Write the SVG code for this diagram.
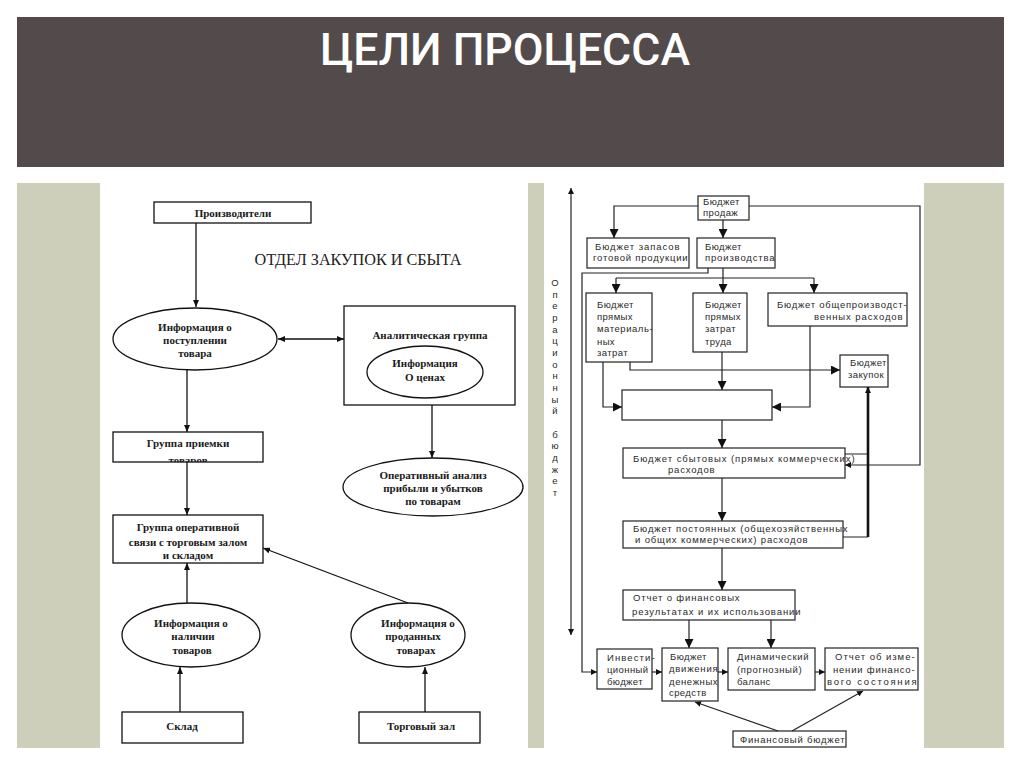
<svg xmlns="http://www.w3.org/2000/svg" width="1024" height="768" viewBox="0 0 1024 768">
<style>
.lt{font-family:"Liberation Serif","Times New Roman",serif;font-weight:bold;font-size:11px;fill:#1a1a1a;text-anchor:middle}
.rt{font-family:"Liberation Sans",Arial,sans-serif;font-size:9.5px;fill:#2a2a2a;letter-spacing:0.4px}
.lb{fill:#fff;stroke:#111;stroke-width:1.3}
.rb{fill:#fff;stroke:#222;stroke-width:1.2}
.ln{fill:none;stroke:#111;stroke-width:1.3}
.rl{fill:none;stroke:#222;stroke-width:1.2}
</style>
<defs>
<marker id="aL" markerUnits="userSpaceOnUse" markerWidth="8" markerHeight="6" refX="7" refY="3" orient="auto-start-reverse"><path d="M0,0 L7,3 L0,6 z" fill="#111"/></marker>
<marker id="aR" markerUnits="userSpaceOnUse" markerWidth="10" markerHeight="9" refX="9" refY="4.5" orient="auto-start-reverse"><path d="M0,0 L9,4.5 L0,9 z" fill="#111"/></marker>
<marker id="aS" markerUnits="userSpaceOnUse" markerWidth="7" markerHeight="6" refX="6" refY="3" orient="auto-start-reverse"><path d="M0,0 L6,3 L0,6 z" fill="#111"/></marker>
<clipPath id="cp1"><rect x="113" y="432" width="150" height="30"/></clipPath>
</defs>
<rect width="1024" height="768" fill="#fff"/>
<rect x="17" y="17" width="987" height="150" fill="#534b4b"/>
<text x="505" y="65" font-family="Roboto,'Liberation Sans',Arial,sans-serif" font-weight="500" font-size="45" fill="#fff" text-anchor="middle" textLength="370" lengthAdjust="spacingAndGlyphs">ЦЕЛИ ПРОЦЕССА</text>
<rect x="17" y="183" width="83" height="565" fill="#cdcfba"/>
<rect x="528" y="183" width="16" height="565" fill="#cdcfba"/>
<rect x="924" y="183" width="80" height="565" fill="#cdcfba"/>

<!-- LEFT DIAGRAM -->
<text x="358" y="265" font-family="'Liberation Serif','Times New Roman',serif" font-size="16" fill="#222" text-anchor="middle" textLength="207" lengthAdjust="spacingAndGlyphs">ОТДЕЛ ЗАКУПОК И СБЫТА</text>
<g id="proizv"><rect class="lb" x="154" y="202" width="157" height="21"/><text class="lt" x="233" y="217">Производители</text></g>
<g id="info-post"><ellipse class="lb" cx="195" cy="339" rx="82" ry="31"/><text class="lt" x="195" y="331">Информация о</text><text class="lt" x="195" y="344">поступлении</text><text class="lt" x="195" y="357">товара</text></g>
<g id="analit"><rect class="lb" x="344" y="306" width="171" height="99"/><text class="lt" x="430" y="339">Аналитическая группа</text>
<ellipse class="lb" cx="425" cy="372" rx="58" ry="26"/><text class="lt" x="425" y="367">Информация</text><text class="lt" x="425" y="381">О ценах</text></g>
<g id="oper-analiz"><ellipse class="lb" cx="433" cy="487" rx="90" ry="29"/><text class="lt" x="433" y="479">Оперативный анализ</text><text class="lt" x="433" y="492">прибыли и убытков</text><text class="lt" x="433" y="505">по товарам</text></g>
<g id="gr-priem"><rect class="lb" x="113" y="432" width="150" height="30"/><text class="lt" x="188" y="447">Группа приемки</text><text class="lt" x="188" y="464" clip-path="url(#cp1)">товаров</text></g>
<g id="gr-oper"><rect class="lb" x="113" y="515" width="150" height="48"/><text class="lt" x="188" y="531">Группа оперативной</text><text class="lt" x="188" y="546">связи с торговым залом</text><text class="lt" x="188" y="559">и складом</text></g>
<g id="info-nal"><ellipse class="lb" cx="191" cy="635" rx="69" ry="32"/><text class="lt" x="191" y="627">Информация о</text><text class="lt" x="193" y="640">наличии</text><text class="lt" x="192" y="654">товаров</text></g>
<g id="info-prod"><ellipse class="lb" cx="408" cy="635" rx="57" ry="32"/><text class="lt" x="418" y="627">Информация о</text><text class="lt" x="413" y="640">проданных</text><text class="lt" x="416" y="654">товарах</text></g>
<g id="sklad"><rect class="lb" x="122" y="712" width="121" height="31"/><text class="lt" x="182" y="730">Склад</text></g>
<g id="torg"><rect class="lb" x="359" y="712" width="121" height="31"/><text class="lt" x="421" y="730">Торговый зал</text></g>

<!-- RIGHT DIAGRAM -->
<text class="rt" style="letter-spacing:0" text-anchor="middle"><tspan x="555" y="286">О</tspan><tspan x="555" y="298">п</tspan><tspan x="555" y="309">е</tspan><tspan x="555" y="321">р</tspan><tspan x="555" y="333">а</tspan><tspan x="555" y="344">ц</tspan><tspan x="555" y="356">и</tspan><tspan x="555" y="368">о</tspan><tspan x="555" y="379">н</tspan><tspan x="555" y="391">н</tspan><tspan x="555" y="403">ы</tspan><tspan x="555" y="414">й</tspan><tspan x="555" y="438">б</tspan><tspan x="555" y="449">ю</tspan><tspan x="555" y="461">д</tspan><tspan x="555" y="473">ж</tspan><tspan x="555" y="484">е</tspan><tspan x="555" y="496">т</tspan></text>

<g id="b-prodazh"><rect class="rb" x="698" y="196" width="51" height="24"/><text class="rt" x="703" y="205">Бюджет</text><text class="rt" x="703" y="216">продаж</text></g>
<g id="b-zapasov"><rect class="rb" x="587" y="238" width="102" height="30" stroke-width="2"/><text class="rt" x="595" y="250" textLength="85" lengthAdjust="spacing">Бюджет  запасов</text><text class="rt" x="593" y="261" textLength="95" lengthAdjust="spacing">готовой продукции</text></g>
<g id="b-proizv"><rect class="rb" x="697" y="238" width="78" height="30"/><text class="rt" x="705" y="250">Бюджет</text><text class="rt" x="705" y="261" textLength="70" lengthAdjust="spacing">производства</text></g>
<g id="b-mat"><rect class="rb" x="586" y="293" width="66" height="69"/><text class="rt" x="597" y="308">Бюджет</text><text class="rt" x="597" y="320">прямых</text><text class="rt" x="597" y="332" textLength="56" lengthAdjust="spacing">материаль-</text><text class="rt" x="597" y="345">ных</text><text class="rt" x="597" y="356">затрат</text></g>
<g id="b-trud"><rect class="rb" x="693" y="293" width="54" height="59"/><text class="rt" x="705" y="308">Бюджет</text><text class="rt" x="705" y="320">прямых</text><text class="rt" x="705" y="332">затрат</text><text class="rt" x="705" y="345">труда</text></g>
<g id="b-obshch"><rect class="rb" x="768" y="293" width="139" height="33"/><text class="rt" x="777" y="308" textLength="130" lengthAdjust="spacing">Бюджет  общепроизводст-</text><text class="rt" x="814" y="320" textLength="89" lengthAdjust="spacing">венных  расходов</text></g>
<g id="b-zakup"><rect class="rb" x="840" y="355" width="48" height="32"/><text class="rt" x="850" y="366">Бюджет</text><text class="rt" x="848" y="378">закупок</text></g>
<g id="b-mid"><rect class="rb" x="622" y="390" width="150" height="30"/></g>
<g id="b-sbyt"><rect class="rb" x="623" y="448" width="222" height="30"/><text class="rt" x="633" y="462" textLength="222" lengthAdjust="spacing">Бюджет сбытовых (прямых коммерческих)</text><text class="rt" x="668" y="473" textLength="47" lengthAdjust="spacing">расходов</text></g>
<g id="b-post"><rect class="rb" x="623" y="521" width="220" height="27"/><text class="rt" x="633" y="532" textLength="215" lengthAdjust="spacing">Бюджет постоянных (общехозяйственных</text><text class="rt" x="635" y="543" textLength="173" lengthAdjust="spacing">и общих коммерческих) расходов</text></g>
<g id="b-otchet"><rect class="rb" x="623" y="590" width="172" height="30"/><text class="rt" x="633" y="601" textLength="107" lengthAdjust="spacing">Отчет  о финансовых</text><text class="rt" x="632" y="615" textLength="169" lengthAdjust="spacing">результатах и их использовании</text></g>
<g id="b-invest"><rect class="rb" x="597" y="649" width="55" height="40"/><text class="rt" x="607" y="661" textLength="48" lengthAdjust="spacing">Инвести-</text><text class="rt" x="607" y="673">ционный</text><text class="rt" x="607" y="685">бюджет</text></g>
<g id="b-dvizh"><rect class="rb" x="662" y="648" width="56" height="53"/><text class="rt" x="670" y="660">Бюджет</text><text class="rt" x="669" y="672" textLength="49" lengthAdjust="spacing">движения</text><text class="rt" x="669" y="685" textLength="49" lengthAdjust="spacing">денежных</text><text class="rt" x="669" y="696">средств</text></g>
<g id="b-dinam"><rect class="rb" x="728" y="648" width="87" height="42"/><text class="rt" x="737" y="660" textLength="72" lengthAdjust="spacing">Динамический</text><text class="rt" x="737" y="673" textLength="65" lengthAdjust="spacing">(прогнозный)</text><text class="rt" x="737" y="685">баланс</text></g>
<g id="b-izm"><rect class="rb" x="825" y="648" width="93" height="42"/><text class="rt" x="835" y="660" textLength="80" lengthAdjust="spacing">Отчет об изме-</text><text class="rt" x="833" y="673" textLength="82" lengthAdjust="spacing">нении финансо-</text><text class="rt" x="827" y="685" textLength="90" lengthAdjust="spacing">вого состояния</text></g>
<g id="b-fin"><rect class="rb" x="733" y="731" width="113" height="16"/><text class="rt" x="740" y="743" textLength="105" lengthAdjust="spacing">Финансовый бюджет</text></g>

<g id="connectors">
<path class="ln" d="M196,223 V307" marker-end="url(#aL)"/>
<path class="ln" d="M278,339 H344" marker-start="url(#aL)" marker-end="url(#aL)"/>
<path class="ln" d="M432,405 V458" marker-end="url(#aL)"/>
<path class="ln" d="M187,370 V432" marker-end="url(#aL)"/>
<path class="ln" d="M187,462 V515" marker-end="url(#aL)"/>
<path class="ln" d="M187,603 V563" marker-end="url(#aL)"/>
<path class="ln" d="M408,603 L263,548" marker-end="url(#aL)"/>
<path class="ln" d="M180,712 V667" marker-end="url(#aL)"/>
<path class="ln" d="M425,712 V667" marker-end="url(#aL)"/>

<path class="rl" d="M571,188 V635" marker-start="url(#aS)" marker-end="url(#aS)"/>
<path class="rl" d="M698,206 H614 V238" marker-end="url(#aR)"/>
<path class="rl" d="M723,220 V238" marker-end="url(#aR)"/>
<path class="rl" d="M749,206 H920 V465 H845" marker-end="url(#aS)"/>
<path class="rl" d="M723,268 V278 M616,278 H814"/>
<path class="rl" d="M616,278 V293" marker-end="url(#aR)"/>
<path class="rl" d="M723,278 V293" marker-end="url(#aR)"/>
<path class="rl" d="M814,278 V293" marker-end="url(#aR)"/>
<path class="rl" d="M708,268 V273 H582 V672 H597" marker-end="url(#aS)"/>
<path class="rl" d="M630,362 V370 H840" marker-end="url(#aR)"/>
<path class="rl" d="M603,362 V407 H622" marker-end="url(#aR)"/>
<path class="rl" d="M722,352 V390" marker-end="url(#aR)"/>
<path class="rl" d="M810,326 V407 H772" marker-end="url(#aR)"/>
<path class="rl" d="M722,420 V448" marker-end="url(#aR)"/>
<path class="rl" d="M722,478 V521" marker-end="url(#aR)"/>
<path class="rl" d="M722,548 V590" marker-end="url(#aR)"/>
<path class="rl" d="M845,454 H868 M843,537 H868"/>
<path fill="none" stroke="#111" stroke-width="2.6" d="M868,537 V387" marker-end="url(#aS)"/>
<path class="rl" d="M689,620 V648" marker-end="url(#aR)"/>
<path class="rl" d="M771,620 V648" marker-end="url(#aR)"/>
<path class="rl" d="M652,672 H662" marker-end="url(#aS)"/>
<path class="rl" d="M718,672 H728" marker-end="url(#aS)"/>
<path class="rl" d="M815,672 H825" marker-end="url(#aS)"/>
<path class="rl" d="M778,731 L695,702" marker-end="url(#aS)"/>
<path class="rl" d="M792,731 L863,691" marker-end="url(#aS)"/>
</g>
</svg>
